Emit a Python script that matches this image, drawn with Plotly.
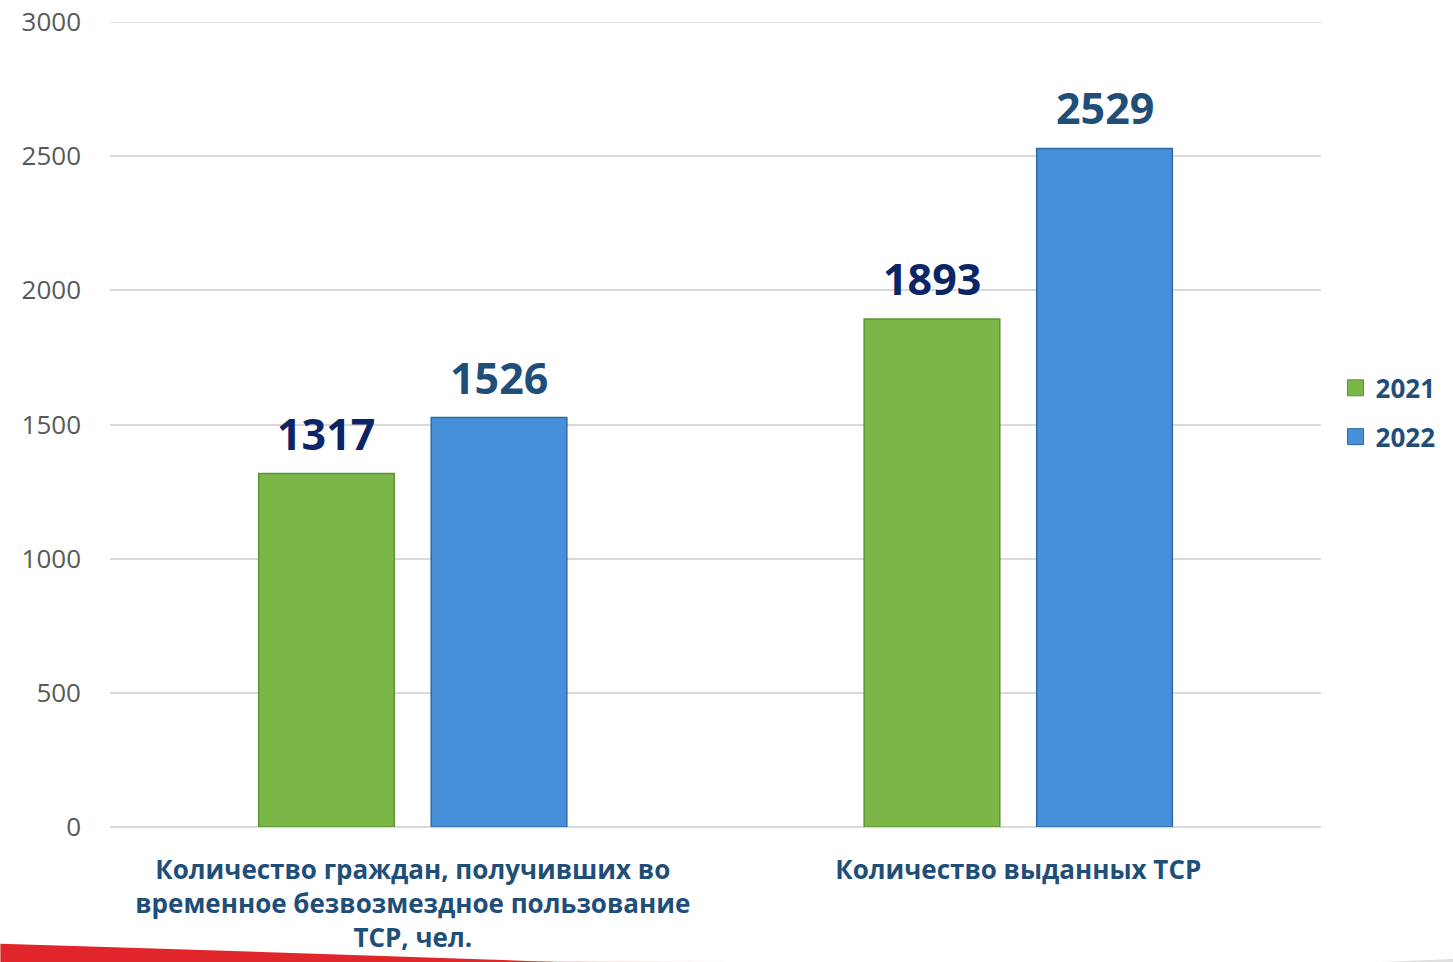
import plotly.graph_objects as go

# === Data ===
categories = [
    "Количество граждан, получивших во<br>временное безвозмездное пользование<br>ТСР, чел.",
    "Количество выданных ТСР",
]
years = ["2021", "2022"]
values_2021 = [1317, 1893]
values_2022 = [1526, 2529]
y_ticks = [0, 500, 1000, 1500, 2000, 2500, 3000]

series = [
    (years[0], values_2021, "#7AB648", "#5E9434", "#0B2566", -86.5),
    (years[1], values_2022, "#4590D8", "#2F6AA6", "#1F4E79", 86.5),
]

fig = go.Figure()
annotations = []

for name, vals, color, edge, label_color, shift in series:
    fig.add_trace(go.Bar(
        x=categories,
        y=vals,
        name=name,
        showlegend=False,
        marker=dict(color=color, line=dict(color=edge, width=1.5)),
        hoverinfo="x+y+name",
    ))
    # value labels above each bar
    for cat, v in zip(categories, vals):
        annotations.append(dict(
            x=cat, y=v, xref="x", yref="y",
            text=f"<b>{v}</b>",
            showarrow=False,
            xshift=shift, yshift=9,
            yanchor="bottom",
            font=dict(size=43, color=label_color, family="Open Sans"),
        ))

# legend entries with larger square swatches
for name, vals, color, edge, label_color, shift in series:
    fig.add_trace(go.Scatter(
        x=[None], y=[None], mode="markers",
        name=f"<b>{name}</b>",
        legendgroup=name,
        marker=dict(symbol="square", size=17, color=color,
                    line=dict(color=edge, width=1)),
    ))

# === Decorations: top gridline + red swoosh at the bottom ===
shapes = [
    dict(type="line", xref="paper", yref="y", x0=0, x1=1, y0=y_ticks[-1], y1=y_ticks[-1],
         line=dict(color="#D9D9D9", width=1.5), layer="below"),
    dict(type="path", xref="paper", yref="paper",
         path="M -0.0905 -0.1450 Q 0.15 -0.1560 0.3704 -0.1677 L -0.0905 -0.1677 Z",
         fillcolor="#E0262B", line=dict(width=0), layer="below"),
    dict(type="path", xref="paper", yref="paper",
         path="M 0.20 -0.1640 Q 0.35 -0.1670 0.55 -0.1677 L 0.20 -0.1677 Z",
         fillcolor="rgba(224,38,43,0.25)", line=dict(width=0), layer="below"),
    dict(type="path", xref="paper", yref="paper",
         path="M 1.05 -0.1677 Q 1.15 -0.1620 1.1918 -0.1570 L 1.1918 -0.1677 Z",
         fillcolor="rgba(200,200,200,0.6)", line=dict(width=0), layer="below"),
]

# === Layout ===
fig.update_layout(
    width=1453,
    height=962,
    margin=dict(l=110, r=128, t=22, b=135),
    paper_bgcolor="white",
    plot_bgcolor="white",
    font=dict(family="Open Sans", color="#595959"),
    barmode="group",
    bargap=0.43,
    bargroupgap=0.214,
    showlegend=True,
    legend=dict(
        x=1.012, y=0.515, xanchor="left", yanchor="middle",
        font=dict(size=26, color="#1F4E79", family="Open Sans"),
        tracegroupgap=12,
        itemsizing="trace",
    ),
    annotations=annotations,
    shapes=shapes,
    xaxis=dict(
        tickvals=categories,
        ticktext=[f"<b>{c}</b>".replace("<br>", "</b><br><b>") for c in categories],
        tickfont=dict(size=26, color="#1F4E79", family="Open Sans"),
        showline=False,
        ticks="",
        ticklabelstandoff=25,
        automargin=False,
    ),
    yaxis=dict(
        range=[0, 3000],
        tickvals=y_ticks,
        showgrid=True,
        gridcolor="#D9D9D9",
        gridwidth=1.5,
        zeroline=True,
        zerolinecolor="#D9D9D9",
        zerolinewidth=2,
        showline=False,
        ticks="",
        ticklabelstandoff=28,
        tickfont=dict(size=26, color="#595959", family="Open Sans"),
        automargin=False,
    ),
)

fig.write_html(
    "out.html",
    config={"displayModeBar": False},
    post_script="document.body.style.margin='0';document.body.style.overflow='hidden';",
)
